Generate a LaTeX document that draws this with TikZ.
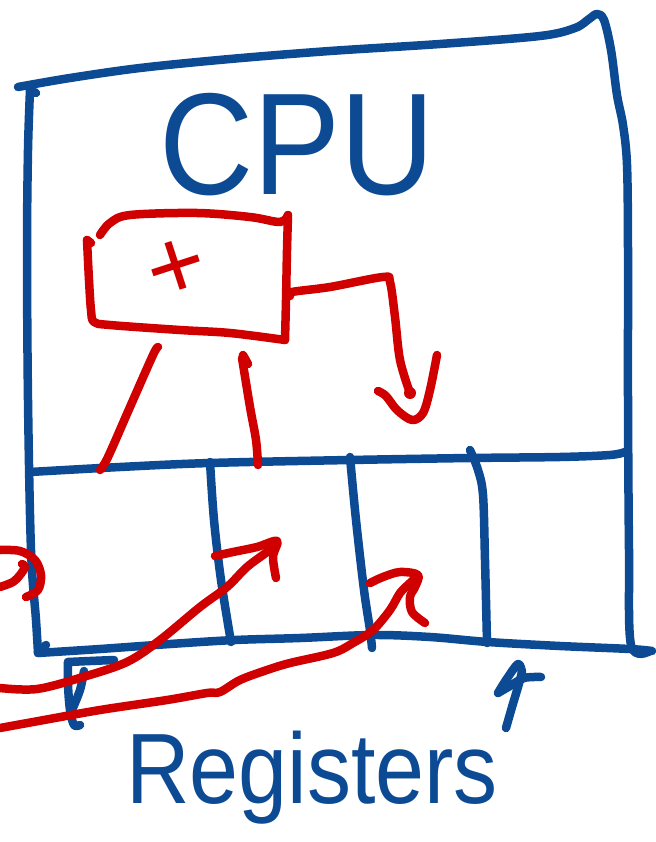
\documentclass[tikz,border=0pt]{standalone}
\usepackage{fontspec}
\setmainfont{Liberation Sans}
\definecolor{penblue}{RGB}{12,74,148}
\definecolor{penred}{RGB}{208,0,0}
\begin{document}
\begin{tikzpicture}[x=1pt,y=-1pt,
  bstroke/.style={draw=penblue,line width=8.5pt,line cap=round,line join=round},
  rstroke/.style={draw=penred,line width=8.5pt,line cap=round,line join=round},
  hand/.style={smooth,tension=0.55}]
\useasboundingbox[fill=white] (0,0) rectangle (655,842);

% ---------- CPU outer box ----------
\draw[bstroke] plot[hand] coordinates {(18,87) (70,78) (140,68) (230,59) (330,51) (440,44) (540,36) (575,28) (589,19) (597,14) (604,20) (611,50) (617,95) (623,125) (627,165) (628,250) (628,400) (629,550) (631,645) (650,651)};
\draw[bstroke] plot[hand] coordinates {(30,90) (28,150) (27,250) (28,400) (31,550) (36,620) (38,653)};
\draw[bstroke] (30,90) -- (36,93);
\draw[bstroke] (38,652) -- (46,645);
\draw[bstroke] plot[hand] coordinates {(38,653) (100,649) (170,644) (235,640) (300,638) (373,635) (430,637) (488,642) (560,646) (630,649) (652,651)};
% separator between ALU part and registers
\draw[bstroke] plot[hand] coordinates {(30,472) (120,467) (210,463) (350,460) (470,458) (560,457) (610,455) (625,452)};
% register dividers
\draw[bstroke] plot[hand] coordinates {(210,462) (214,520) (221,580) (231,642)};
\draw[bstroke] plot[hand] coordinates {(350,457) (356,520) (364,590) (370,630) (372,648)};
\draw[bstroke] plot[hand] coordinates {(470,450) (478,470) (483,495) (485,560) (487,643)};
% small mark below the box
\draw[bstroke] plot[hand] coordinates {(68,662) (68,685) (70,710) (74,725) (80,725)};
\draw[bstroke] plot[hand] coordinates {(68,662) (90,661) (114,660)};
\draw[bstroke] plot[hand] coordinates {(84,671) (80,690) (72,710)};
% arrow pointing at registers
\draw[bstroke] plot[hand] coordinates {(506,728) (512,707) (518,687) (522,672)};
\draw[bstroke] plot[hand] coordinates {(498,693) (506,680) (518,664) (522,672)};
\draw[bstroke] plot[hand] coordinates {(498,693) (510,686) (524,678) (541,677)};

% ---------- labels ----------
\node[text=penblue,anchor=base,inner sep=0pt] (cpu) at (297,195)
  {\scalebox{0.9}[1]{\fontsize{145}{145}\selectfont CPU}};
\node[text=penblue,anchor=base,inner sep=0pt] (regs) at (312,803)
  {\scalebox{0.88}[1]{\fontsize{100}{100}\selectfont Registers}};

% ---------- red adder box ----------
\draw[rstroke] plot[hand] coordinates {(87,240) (89,280) (91,310) (94,322) (110,325) (180,330) (230,333) (285,340)};
\draw[rstroke] plot[hand] coordinates {(285,340) (286,300) (287,250) (288,215)};
\draw[rstroke] plot[hand] coordinates {(100,235) (110,223) (130,215) (197,213) (250,217) (280,222) (288,215)};
\draw[rstroke] (87,240) -- (91,243);
\node[text=penred,inner sep=0pt,rotate=18] (plus) at (177,270)
  {\fontsize{100}{100}\selectfont +};

% output of adder
\draw[rstroke] plot[hand] coordinates {(290,296) (292,292) (330,287) (383,277) (390,282) (395,317) (400,360) (410,393)};
\fill[penred] (410,393) circle (6pt);
\draw[rstroke] plot[hand] coordinates {(378,391) (386,396) (397,410) (412,420) (423,413) (430,390) (437,355)};

% inputs of adder
\draw[rstroke] plot[hand] coordinates {(158,347) (153,355) (130,407) (108,457) (100,470)};
\draw[rstroke] plot[hand] coordinates {(242,358) (250,407) (256,440) (258,465)};
\draw[rstroke] (243,355) -- (248,364);

% arrows into registers
\draw[rstroke] plot[hand] coordinates {(0,688) (37,689) (83,677) (127,662) (160,640) (200,607) (227,587) (247,567) (267,552) (277,543)};
\draw[rstroke] plot[hand] coordinates {(215,556) (233,552) (257,547) (277,541) (273,557) (276,578)};
\draw[rstroke] plot[hand] coordinates {(0,728) (33,722) (100,710) (167,700) (207,693) (220,692) (240,680) (267,670) (290,663) (333,653) (353,643) (373,630) (390,610) (400,593) (410,583) (415,578)};
\draw[rstroke] plot[hand] coordinates {(370,583) (383,577) (400,572) (418,575) (415,587) (410,597) (412,612) (425,623)};

% loop at the left edge
\draw[rstroke] plot[hand] coordinates {(0,550) (20,551) (35,560) (41,575) (38,590) (26,597)};
\draw[rstroke] plot[hand] coordinates {(0,587) (13,582) (20,575) (25,567) (22,564)};
\end{tikzpicture}
\end{document}
